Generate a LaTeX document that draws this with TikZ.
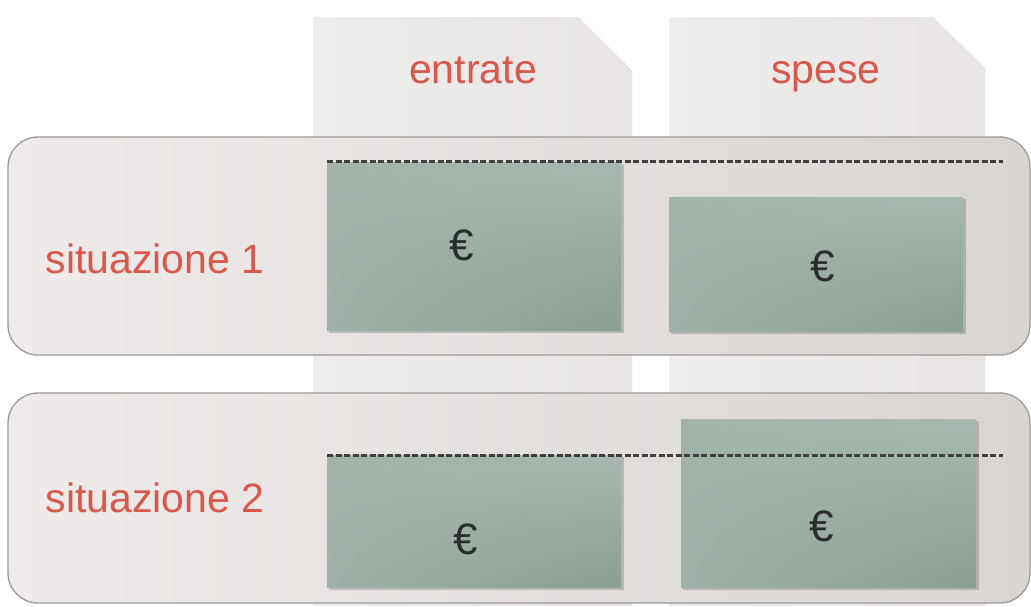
\documentclass[tikz,border=0pt]{standalone}
\usepackage{fontspec}
\setmainfont{Liberation Sans}
\usetikzlibrary{shadings}
\begin{document}
\begin{tikzpicture}[x=1pt,y=-1pt,
  tabshape/.style={left color=tabL, right color=tabR},
  panelshape/.style={left color=panL, right color=panR, draw=panBorder, line width=1.3pt, rounded corners=30pt},
  moneybox/.style={upper left=boxUL, upper right=boxUR, lower left=boxLL, lower right=boxLR},
  boxshadow/.style={fill=black, opacity=0.18},
  levelline/.style={draw=lineCol, line width=3pt, dash pattern=on 6pt off 2.5pt},
  headlabel/.style={text=redText, font=\fontsize{41}{48}\selectfont, inner sep=0pt, anchor=base},
  euro/.style={text=euroCol, font=\fontsize{44}{50}\selectfont, inner sep=0pt}
]
\definecolor{tabL}{HTML}{EFEDED}
\definecolor{tabR}{HTML}{E8E5E4}
\definecolor{panL}{HTML}{EEEBEA}
\definecolor{panR}{HTML}{D9D5D3}
\definecolor{panBorder}{HTML}{9E9A98}
\definecolor{boxUL}{HTML}{A3B3AA}
\definecolor{boxUR}{HTML}{A8B8B0}
\definecolor{boxLL}{HTML}{A0B0A8}
\definecolor{boxLR}{HTML}{8A9E93}
\definecolor{lineCol}{HTML}{3F3F3D}
\definecolor{redText}{HTML}{D8584B}
\definecolor{euroCol}{HTML}{2B2D2C}

\useasboundingbox (0,0) rectangle (1031,606);
\fill[white] (0,0) rectangle (1031,606);

% column tabs
\shade[tabshape] (313,17) -- (578,17) -- (632,70) -- (632,606) -- (313,606) -- cycle;
\shade[tabshape] (669,17) -- (933,17) -- (985,68) -- (985,606) -- (669,606) -- cycle;

% situation panels
\shade[panelshape] (8,137) rectangle (1030,355);
\shade[panelshape] (8,393) rectangle (1030,603);

% money boxes, situation 1
\fill[boxshadow] (329,165) rectangle (624,333);
\shade[moneybox] (327,162) rectangle (621,330);
\fill[boxshadow] (671,199) rectangle (966,334);
\shade[moneybox] (669,197) rectangle (963,331);

% money boxes, situation 2
\fill[boxshadow] (329,457) rectangle (624,590);
\shade[moneybox] (327,455) rectangle (621,587);
\fill[boxshadow] (683,421) rectangle (979,590);
\shade[moneybox] (681,419) rectangle (976,587);

% level lines
\coordinate (l1a) at (327,161);
\coordinate (l1b) at (1003,161);
\coordinate (l2a) at (327,455);
\coordinate (l2b) at (1003,455);
\draw[levelline] (l1a) -- (l1b);
\draw[levelline] (l2a) -- (l2b);

% labels
\node[headlabel] (entrate) at (473,83) {entrate};
\node[headlabel] (spese) at (826,83) {spese};
\node[headlabel] (sit1) at (155,273) {situazione 1};
\node[headlabel] (sit2) at (155,512) {situazione 2};

% euro signs
\node[euro] (e1) at (462,245) {€};
\node[euro] (s1) at (823,266) {€};
\node[euro] (e2) at (466,539) {€};
\node[euro] (s2) at (822,526) {€};
\end{tikzpicture}
\end{document}
